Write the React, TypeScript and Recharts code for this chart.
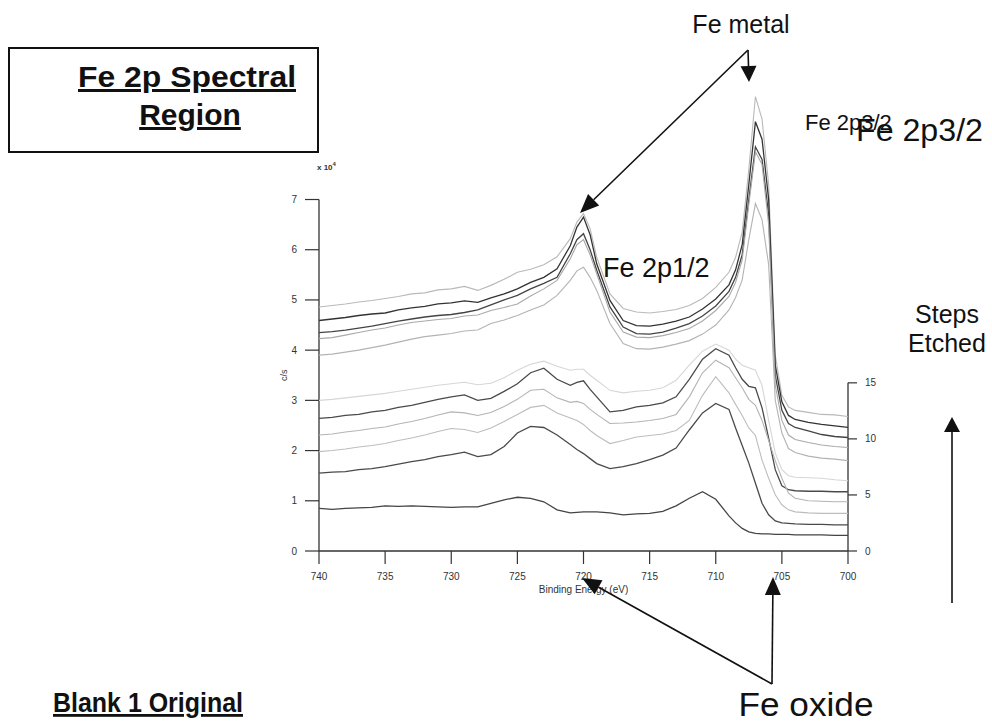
import { LineChart, Line, XAxis, YAxis, ReferenceLine } from "recharts";

const FONT = "Liberation Sans, Arial, Helvetica, sans-serif";

// binding energy grid (eV), shared by every spectrum
const energy = [
  740, 739, 738, 737, 736, 735, 734, 733, 732, 731, 730, 729, 728, 727, 726, 725, 724, 723, 722, 721,
  720.5, 720, 719.5, 719, 718, 717, 716, 715, 714, 713, 712, 711, 710, 709, 708.5, 708, 707.5, 707,
  706.5, 706, 705.5, 705, 704.5, 704, 703, 702, 701, 700,
];

// metal-dominated spectra (c/s x 10^4)
const m1 = [
  4.86, 4.89, 4.92, 4.96, 4.99, 5.03, 5.07, 5.12, 5.14, 5.2, 5.22, 5.27, 5.19, 5.29, 5.41, 5.55, 5.61, 5.7, 5.86, 6.22,
  6.55, 6.72, 6.42, 5.85, 5.12, 4.83, 4.76, 4.74, 4.77, 4.81, 4.89, 5.03, 5.25, 5.55, 5.85, 6.35, 7.6, 9.05,
  8.6, 7.3, 3.9, 3.1, 2.87, 2.8, 2.76, 2.72, 2.71, 2.68,
];
const m2 = [
  4.59, 4.62, 4.65, 4.69, 4.72, 4.74, 4.8, 4.84, 4.87, 4.92, 4.94, 4.98, 4.95, 5.04, 5.12, 5.22, 5.35, 5.45, 5.62, 6.08,
  6.45, 6.65, 6.3, 5.72, 4.99, 4.59, 4.49, 4.48, 4.52, 4.58, 4.66, 4.82, 5.02, 5.3, 5.6, 6.1, 7.3, 8.55,
  8.2, 7.0, 3.7, 2.97, 2.7, 2.62, 2.56, 2.52, 2.49, 2.46,
];
const m3 = [
  4.35, 4.37, 4.4, 4.44, 4.48, 4.53, 4.58, 4.62, 4.66, 4.69, 4.71, 4.75, 4.8, 4.9, 5.0, 5.09, 5.22, 5.33, 5.45, 5.92,
  6.2, 6.32, 6.0, 5.59, 4.86, 4.46, 4.33, 4.32, 4.36, 4.44, 4.53, 4.68, 4.88, 5.17, 5.45, 5.9, 7.0, 8.05,
  7.8, 6.7, 3.5, 2.8, 2.54, 2.46, 2.39, 2.32, 2.28, 2.26,
];
const m4 = [
  4.23, 4.25, 4.3, 4.35, 4.4, 4.44, 4.5, 4.55, 4.58, 4.61, 4.63, 4.68, 4.7, 4.79, 4.85, 4.92, 5.08, 5.22, 5.39, 5.82,
  6.1, 6.2, 5.9, 5.52, 4.76, 4.36, 4.26, 4.25, 4.29, 4.35, 4.43, 4.58, 4.79, 5.07, 5.35, 5.8, 6.9, 7.95,
  7.7, 6.5, 3.3, 2.6, 2.31, 2.22, 2.16, 2.11, 2.08, 2.06,
];
const m5 = [
  3.9, 3.92, 3.96, 4.0, 4.05, 4.1, 4.16, 4.22, 4.27, 4.3, 4.33, 4.38, 4.4, 4.53, 4.6, 4.69, 4.8, 4.9, 5.09, 5.39,
  5.58, 5.65, 5.45, 5.19, 4.53, 4.13, 4.03, 4.02, 4.06, 4.12, 4.19, 4.32, 4.5, 4.8, 5.05, 5.4, 6.2, 6.92,
  6.6, 5.7, 3.0, 2.35, 2.04, 1.96, 1.89, 1.85, 1.83, 1.8,
];

// oxide-dominated spectra
const o1 = [
  3.0, 3.02, 3.05, 3.08, 3.11, 3.14, 3.18, 3.22, 3.26, 3.3, 3.33, 3.36, 3.31, 3.34, 3.45, 3.6, 3.72, 3.78, 3.68, 3.6,
  3.62, 3.62, 3.5, 3.4, 3.2, 3.15, 3.18, 3.2, 3.25, 3.4, 3.7, 3.98, 4.12, 4.0, 3.82, 3.7, 3.65, 3.6,
  3.3, 2.6, 1.95, 1.62, 1.5, 1.47, 1.46, 1.45, 1.42, 1.4,
];
const o2 = [
  2.64, 2.66, 2.7, 2.72, 2.77, 2.8, 2.86, 2.9, 2.96, 3.02, 3.07, 3.11, 3.0, 3.04, 3.18, 3.33, 3.55, 3.64, 3.42, 3.3,
  3.36, 3.39, 3.22, 3.07, 2.77, 2.8, 2.87, 2.9, 2.95, 3.07, 3.42, 3.82, 4.03, 3.9, 3.65, 3.42, 3.28, 3.25,
  2.85, 2.25, 1.62, 1.3, 1.22, 1.2, 1.19, 1.19, 1.18, 1.18,
];
const o3 = [
  2.31, 2.33, 2.37, 2.4, 2.44, 2.47, 2.53, 2.58, 2.64, 2.71, 2.77, 2.75, 2.7, 2.76, 2.88, 3.02, 3.2, 3.22, 3.05, 2.96,
  2.98, 2.94, 2.82, 2.72, 2.54, 2.55, 2.57, 2.6, 2.64, 2.72, 3.07, 3.55, 3.8, 3.65, 3.45, 3.25, 3.02, 2.9,
  2.6, 2.2, 1.8, 1.45, 1.15, 1.05, 1.0, 0.99, 0.98, 0.98,
];
const o4 = [
  1.98, 2.0, 2.03, 2.07, 2.1, 2.14, 2.2, 2.25, 2.31, 2.38, 2.44, 2.42, 2.36, 2.45, 2.58, 2.72, 2.86, 2.9, 2.75, 2.65,
  2.6, 2.52, 2.4, 2.3, 2.14, 2.2, 2.27, 2.3, 2.33, 2.4, 2.6, 3.1, 3.47, 3.15, 2.92, 2.7, 2.45, 2.3,
  1.81, 1.45, 1.12, 0.92, 0.82, 0.78, 0.76, 0.75, 0.75, 0.75,
];
const o5 = [
  1.55, 1.57, 1.58, 1.62, 1.64, 1.68, 1.73, 1.78, 1.82, 1.88, 1.92, 1.97, 1.88, 1.92, 2.08, 2.35, 2.48, 2.46, 2.31, 2.12,
  2.02, 1.94, 1.84, 1.74, 1.64, 1.68, 1.74, 1.82, 1.91, 2.05, 2.41, 2.75, 2.94, 2.82, 2.45, 2.1, 1.75, 1.35,
  0.95, 0.72, 0.6, 0.56, 0.55, 0.54, 0.53, 0.53, 0.52, 0.52,
];
const o6 = [
  0.85, 0.83, 0.85, 0.86, 0.87, 0.9, 0.89, 0.9, 0.89, 0.88, 0.87, 0.88, 0.88, 0.95, 1.02, 1.07, 1.05, 0.98, 0.82, 0.76,
  0.77, 0.78, 0.78, 0.78, 0.76, 0.72, 0.74, 0.75, 0.79, 0.9, 1.05, 1.18, 1.03, 0.7, 0.56, 0.45, 0.38, 0.35,
  0.34, 0.34, 0.33, 0.33, 0.33, 0.32, 0.32, 0.32, 0.31, 0.31,
];

const xTicks = [740, 735, 730, 725, 720, 715, 710, 705, 700];
const countTicks = [0, 1, 2, 3, 4, 5, 6, 7];
const stepTicks = [0, 5, 10, 15];

const series = [
  { key: "m1", values: m1, color: "#b9b9b9", width: 1.1 },
  { key: "m2", values: m2, color: "#333333", width: 1.3 },
  { key: "m3", values: m3, color: "#444444", width: 1.3 },
  { key: "m4", values: m4, color: "#a9a9a9", width: 1.1 },
  { key: "m5", values: m5, color: "#b3b3b3", width: 1.1 },
  { key: "o1", values: o1, color: "#d6d6d6", width: 1.1 },
  { key: "o2", values: o2, color: "#4a4a4a", width: 1.3 },
  { key: "o3", values: o3, color: "#b4b4b4", width: 1.1 },
  { key: "o4", values: o4, color: "#bdbdbd", width: 1.1 },
  { key: "o5", values: o5, color: "#4a4a4a", width: 1.3 },
  { key: "o6", values: o6, color: "#444444", width: 1.3 },
];

const data = energy.map((e, i) => {
  const row: Record<string, number> = { e };
  series.forEach((s) => {
    row[s.key] = s.values[i];
  });
  return row;
});

function CsLabel(props: any) {
  const vb = props.viewBox || { x: 279, y: 79, width: 40, height: 472 };
  const cx = vb.x + 8;
  const cy = vb.y + vb.height * (1 - 3.5 / 9.4);
  return (
    <text x={cx} y={cy} transform={`rotate(-90, ${cx}, ${cy})`} textAnchor="middle" fontSize={9} fill="#333" fontFamily={FONT}>
      c/s
    </text>
  );
}

function Arrow({ x1, y1, x2, y2, head = 16, half = 7 }: { x1: number; y1: number; x2: number; y2: number; head?: number; half?: number }) {
  const dx = x2 - x1;
  const dy = y2 - y1;
  const len = Math.sqrt(dx * dx + dy * dy);
  const ux = dx / len;
  const uy = dy / len;
  const bx = x2 - ux * head;
  const by = y2 - uy * head;
  const pts = `${x2},${y2} ${bx - uy * half},${by + ux * half} ${bx + uy * half},${by - ux * half}`;
  return (
    <g>
      <line x1={x1} y1={y1} x2={bx} y2={by} stroke="#111" strokeWidth={1.6} />
      <polygon points={pts} fill="#111" />
    </g>
  );
}

function Annotations() {
  return (
    <svg width={992} height={725} style={{ position: "absolute", left: 0, top: 0, pointerEvents: "none" }} fontFamily={FONT}>
      <rect x={9} y={48} width={309} height={104} fill="none" stroke="#111" strokeWidth={2} />
      <text x={187} y={87} textAnchor="middle" fontSize={30} fontWeight="bold" fill="#111" textLength={218} lengthAdjust="spacingAndGlyphs" style={{ textDecoration: "underline" }}>
        Fe 2p Spectral
      </text>
      <text x={190} y={125} textAnchor="middle" fontSize={30} fontWeight="bold" fill="#111" style={{ textDecoration: "underline" }}>
        Region
      </text>

      <text x={317} y={170} fontSize={8} fontWeight="bold" fill="#333">
        x 10<tspan dy={-4} fontSize={6}>4</tspan>
      </text>

      <text x={741} y={33} textAnchor="middle" fontSize={25} fill="#111">Fe metal</text>
      <Arrow x1={748} y1={50} x2={749} y2={82} head={16} half={8} />
      <Arrow x1={748} y1={50} x2={580} y2={213} head={19} half={8} />

      <text x={805} y={130} fontSize={22} fill="#111">Fe 2p3/2</text>
      <text x={856} y={141} fontSize={31} fill="#111" textLength={127} lengthAdjust="spacingAndGlyphs">Fe 2p3/2</text>
      <text x={603} y={277} fontSize={27} fill="#111">Fe 2p1/2</text>

      <text x={947} y={323} textAnchor="middle" fontSize={25} fill="#111">Steps</text>
      <text x={947} y={352} textAnchor="middle" fontSize={25} fill="#111">Etched</text>
      <Arrow x1={952} y1={603} x2={952} y2={417} head={15} half={8} />

      <Arrow x1={772} y1={684} x2={773} y2={577} head={18} half={8} />
      <Arrow x1={772} y1={684} x2={582} y2={578} head={19} half={8} />
      <text x={806} y={716} textAnchor="middle" fontSize={33} fill="#111" textLength={135} lengthAdjust="spacingAndGlyphs">
        Fe oxide
      </text>

      <text x={53} y={712} fontSize={28} fontWeight="bold" fill="#111" textLength={190} lengthAdjust="spacingAndGlyphs" style={{ textDecoration: "underline" }}>
        Blank 1 Original
      </text>
    </svg>
  );
}

export default function App() {
  return (
    <div style={{ position: "absolute", left: 0, top: 0, width: 992, height: 725, background: "#fff" }}>
      <LineChart
        width={992}
        height={725}
        data={data}
        margin={{ top: 79, right: 104, bottom: 130, left: 279 }}
        style={{ fontFamily: FONT }}
      >
        <XAxis
          dataKey="e"
          type="number"
          domain={[700, 740]}
          allowDataOverflow
          reversed
          ticks={xTicks}
          interval={0}
          height={44}
          tickSize={13}
          tickMargin={9}
          stroke="#333"
          axisLine={{ stroke: "#333", strokeWidth: 1.3 }}
          tickLine={{ stroke: "#333", strokeWidth: 1.2 }}
          tick={{ fontSize: 10, fill: "#333", fontFamily: FONT }}
          label={{ value: "Binding Energy (eV)", position: "insideBottom", offset: 2, fontSize: 10, fill: "#333", fontFamily: FONT }}
        />
        <YAxis
          yAxisId="left"
          domain={[0, 9.4]}
          allowDataOverflow
          ticks={countTicks}
          interval={0}
          width={40}
          tickSize={14}
          tickMargin={8}
          axisLine={false}
          tickLine={{ stroke: "#333", strokeWidth: 1.2 }}
          tick={{ fontSize: 10, fill: "#333", fontFamily: FONT }}
          label={{ content: CsLabel }}
        />
        <YAxis
          yAxisId="right"
          orientation="right"
          domain={[0, 42.1]}
          allowDataOverflow
          ticks={stepTicks}
          interval={0}
          width={40}
          tickSize={9}
          tickMargin={8}
          axisLine={false}
          tickLine={{ stroke: "#333", strokeWidth: 1.2 }}
          tick={{ fontSize: 10, fill: "#333", fontFamily: FONT }}
        />
        <ReferenceLine yAxisId="left" segment={[{ x: 740, y: 0 }, { x: 740, y: 7 }]} stroke="#333" strokeWidth={1.3} />
        <ReferenceLine yAxisId="right" segment={[{ x: 700, y: 0 }, { x: 700, y: 15 }]} stroke="#333" strokeWidth={1.3} />
        {series.map((s) => (
          <Line
            key={s.key}
            yAxisId="left"
            type="linear"
            dataKey={s.key}
            stroke={s.color}
            strokeWidth={s.width}
            dot={false}
            activeDot={false}
            isAnimationActive={false}
          />
        ))}
      </LineChart>
      <Annotations />
    </div>
  );
}
